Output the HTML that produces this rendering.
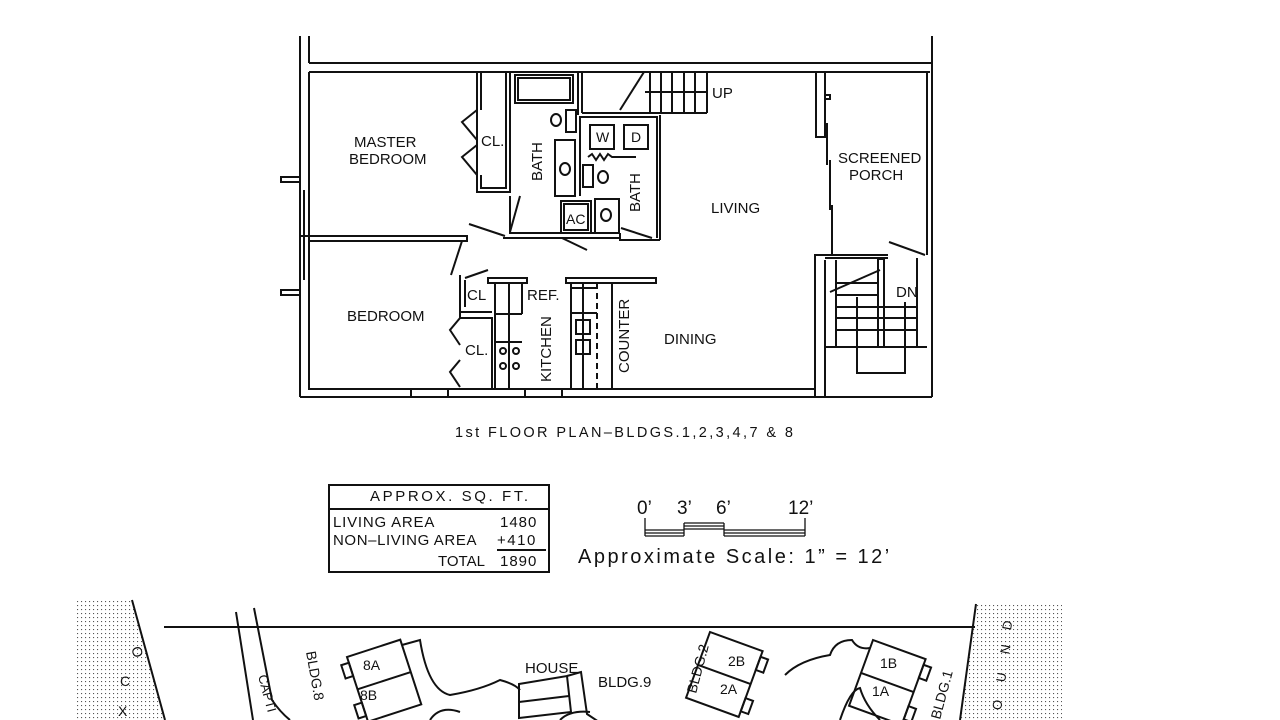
<!DOCTYPE html>
<html><head><meta charset="utf-8"><style>
html,body{margin:0;padding:0;background:#fff;width:1280px;height:720px;overflow:hidden}
svg{display:block}
text{font-family:"Liberation Sans",sans-serif;fill:#111}
</style></head><body>
<svg width="1280" height="720" viewBox="0 0 1280 720" xmlns="http://www.w3.org/2000/svg">
<defs>
<pattern id="dots" width="4" height="4" patternUnits="userSpaceOnUse"><rect x="1" y="1" width="1.1" height="1.1" fill="#555"/></pattern>
</defs>
<g stroke="#111" stroke-width="2" fill="none">
<line x1="300" y1="36" x2="300" y2="397"/>
<line x1="309" y1="36" x2="309" y2="63"/>
<line x1="309" y1="63" x2="932" y2="63"/>
<line x1="309" y1="72" x2="930" y2="72"/>
<line x1="932" y1="36" x2="932" y2="397"/>
<line x1="927" y1="72" x2="927" y2="255"/>
<line x1="309" y1="72" x2="309" y2="390"/>
<line x1="300" y1="397" x2="932" y2="397"/>
<line x1="309" y1="389" x2="815" y2="389"/>
<polyline points="300,177 281,177 281,182 300,182"/>
<polyline points="300,290 281,290 281,295 300,295"/>
<line x1="304" y1="190" x2="304" y2="280"/>
<polyline points="300,236 467,236 467,241 309,241"/>
<line x1="462" y1="241" x2="451" y2="275"/>
<!-- master closet -->
<polyline points="477,72 477,192 510,192 510,72"/>
<polyline points="481,72 481,110"/>
<polyline points="481,175 481,188 506,188 506,72"/>
<polyline points="477,110 462,122 477,140"/>
<polyline points="477,145 462,157 477,175"/>
<rect x="515" y="75" width="58" height="28"/>
<rect x="518" y="78" width="52" height="22"/>
<line x1="578" y1="72" x2="578" y2="115"/>
<line x1="582" y1="72" x2="582" y2="113"/>
<polyline points="510,196 510,233 620,233"/>
<polyline points="503,238 620,238"/>
<line x1="520" y1="196" x2="510" y2="232"/>
<line x1="469" y1="224" x2="505" y2="236"/>
<ellipse cx="556" cy="120" rx="5" ry="6"/>
<rect x="566" y="110" width="10" height="22"/>
<rect x="555" y="140" width="20" height="56"/>
<ellipse cx="565" cy="169" rx="5" ry="6"/>
<polyline points="580,196 580,117 657,117 657,238"/>
<line x1="582" y1="113" x2="707" y2="113"/>
<rect x="590" y="125" width="24" height="24"/>
<rect x="624" y="125" width="24" height="24"/>
<polyline points="588,157 592,154 596,160 600,154 604,160 608,154 612,157 636,157"/>
<rect x="583" y="165" width="10" height="22"/>
<ellipse cx="603" cy="177" rx="5" ry="6"/>
<rect x="561" y="201" width="30" height="32"/>
<rect x="564" y="204" width="24" height="26"/>
<rect x="595" y="199" width="24" height="34"/>
<ellipse cx="606" cy="215" rx="5" ry="6"/>
<line x1="621" y1="228" x2="652" y2="238"/>
<line x1="562" y1="238" x2="587" y2="250"/>
<polyline points="620,233 620,240 660,240"/>
<line x1="660" y1="115" x2="660" y2="240"/>
<line x1="707" y1="72" x2="707" y2="113"/>
<line x1="620" y1="110" x2="644" y2="72"/>
<line x1="650" y1="72" x2="650" y2="113"/>
<line x1="661" y1="72" x2="661" y2="113"/>
<line x1="672" y1="72" x2="672" y2="113"/>
<line x1="684" y1="72" x2="684" y2="113"/>
<line x1="695" y1="72" x2="695" y2="113"/>
<line x1="645" y1="92" x2="707" y2="92"/>
<polyline points="816,72 816,137 825,137 825,72"/>
<polyline points="825,95 830,95 830,99 825,99"/>
<line x1="827" y1="123" x2="827" y2="165"/>
<line x1="830" y1="160" x2="830" y2="210"/>
<line x1="832" y1="205" x2="832" y2="255"/>
<polyline points="815,397 815,255 888,255"/>
<line x1="825" y1="260" x2="825" y2="397"/>
<line x1="889" y1="242" x2="925" y2="255"/>
<polyline points="825,258 888,258"/>
<line x1="917" y1="258" x2="917" y2="347"/>
<line x1="836" y1="260" x2="836" y2="347"/>
<rect x="878" y="259" width="6" height="88"/>
<line x1="836" y1="283" x2="878" y2="283"/>
<line x1="836" y1="295" x2="878" y2="295"/>
<line x1="836" y1="307" x2="917" y2="307"/>
<line x1="836" y1="318" x2="917" y2="318"/>
<line x1="836" y1="330" x2="917" y2="330"/>
<line x1="825" y1="347" x2="927" y2="347"/>
<line x1="830" y1="292" x2="880" y2="270"/>
<polyline points="857,297 857,373 905,373 905,302"/>
<polyline points="460,275 460,312 492,312"/>
<polyline points="465,280 465,307"/>
<line x1="465" y1="278" x2="488" y2="270"/>
<polyline points="460,312 460,318 492,318 492,389"/>
<polyline points="460,318 450,330 460,345"/>
<polyline points="460,360 450,372 460,387"/>
<rect x="488" y="278" width="39" height="5"/>
<line x1="495" y1="283" x2="495" y2="389"/>
<line x1="509" y1="283" x2="509" y2="389"/>
<line x1="522" y1="283" x2="522" y2="314"/>
<line x1="495" y1="314" x2="522" y2="314"/>
<line x1="495" y1="342" x2="522" y2="342"/>
<circle cx="503" cy="351" r="3"/><circle cx="516" cy="351" r="3"/>
<circle cx="503" cy="366" r="3"/><circle cx="516" cy="366" r="3"/>
<rect x="566" y="278" width="90" height="5"/>
<line x1="571" y1="283" x2="571" y2="389"/>
<line x1="583" y1="283" x2="583" y2="389"/>
<line x1="612" y1="283" x2="612" y2="389"/>
<line x1="597" y1="283" x2="597" y2="389" stroke-dasharray="6,4"/>
<line x1="571" y1="288" x2="597" y2="288"/>
<line x1="571" y1="313" x2="597" y2="313"/>
<rect x="576" y="320" width="14" height="14"/>
<rect x="576" y="340" width="14" height="14"/>
<rect x="411" y="389" width="37" height="8"/>
<rect x="525" y="389" width="37" height="8"/>
<rect x="329" y="485" width="220" height="87"/>
<line x1="329" y1="509" x2="549" y2="509"/>
<line x1="497" y1="550" x2="546" y2="550"/>
<g stroke-width="1.3">
<line x1="645" y1="518" x2="645" y2="536"/>
<line x1="645" y1="530" x2="684" y2="530"/><line x1="645" y1="533" x2="684" y2="533"/><line x1="645" y1="536" x2="684" y2="536"/>
<line x1="684" y1="523" x2="684" y2="536"/>
<line x1="684" y1="523" x2="724" y2="523"/><line x1="684" y1="526" x2="724" y2="526"/><line x1="684" y1="529" x2="724" y2="529"/>
<line x1="724" y1="523" x2="724" y2="536"/>
<line x1="724" y1="530" x2="805" y2="530"/><line x1="724" y1="533" x2="805" y2="533"/><line x1="724" y1="536" x2="805" y2="536"/>
<line x1="805" y1="518" x2="805" y2="536"/>
</g>
</g>
<path d="M75,600 L132,600 L165,720 L75,720 Z" fill="url(#dots)"/>
<path d="M976,604 L1062,604 L1062,720 L960,720 Z" fill="url(#dots)"/>
<g stroke="#111" stroke-width="2" fill="none">
<path d="M132,600 L165,720"/>
<path d="M976,604 L960,720"/>
<line x1="164" y1="627" x2="975" y2="627"/>
<path d="M236,612 L253,720 M254,608 L272,700 Q280,712 290,720"/>
<g transform="translate(347,657) rotate(-18)"><rect x="0" y="0" width="56" height="68"/><line x1="0" y1="34" x2="56" y2="34"/><rect x="-8" y="6" width="8" height="14"/><rect x="-8" y="48" width="8" height="14"/></g>
<path d="M402,645 L420,640 Q428,690 450,695 Q480,690 500,680 Q515,684 520,690"/>
<g transform="translate(519,684)"><polygon points="0,0 48,-8 52,28 0,34"/><line x1="0" y1="18" x2="50" y2="12"/><polyline points="48,-8 62,-12 68,30 80,38 82,60"/></g>
<g transform="translate(710,632) rotate(20)"><rect x="0" y="0" width="56" height="70"/><line x1="0" y1="35" x2="56" y2="35"/><rect x="56" y="6" width="8" height="14"/><rect x="56" y="50" width="8" height="14"/></g>
<path d="M785,675 Q800,660 830,655 Q835,640 852,640 Q858,650 870,648"/>
<g transform="translate(873,640) rotate(20)"><rect x="0" y="0" width="56" height="70"/><line x1="0" y1="35" x2="56" y2="35"/><rect x="56" y="6" width="8" height="14"/><rect x="56" y="50" width="8" height="14"/></g>
<path d="M840,720 Q850,690 860,688 Q865,705 880,720"/>
<path d="M430,720 Q440,705 460,712 M560,720 Q570,710 590,712"/>
</g>
<g font-size="15">
<text x="354" y="147">MASTER</text>
<text x="349" y="164">BEDROOM</text>
<text x="481" y="146">CL.</text>
<text transform="translate(542,181) rotate(-90)">BATH</text>
<text x="596" y="142" font-size="14">W</text>
<text x="631" y="142" font-size="14">D</text>
<text transform="translate(640,212) rotate(-90)">BATH</text>
<text x="566" y="224" font-size="14">AC</text>
<text x="712" y="98">UP</text>
<text x="711" y="213">LIVING</text>
<text x="838" y="163">SCREENED</text>
<text x="849" y="180">PORCH</text>
<text x="896" y="297">DN</text>
<text x="347" y="321">BEDROOM</text>
<text x="467" y="300">CL</text>
<text x="527" y="300">REF.</text>
<text x="465" y="355">CL.</text>
<text transform="translate(551,382) rotate(-90)">KITCHEN</text>
<text transform="translate(629,373) rotate(-90)">COUNTER</text>
<text x="664" y="344">DINING</text>
<text x="455" y="437" font-size="14.5" letter-spacing="2.4">1st FLOOR PLAN–BLDGS.1,2,3,4,7 &amp; 8</text>
<text x="370" y="501" letter-spacing="2.6">APPROX. SQ. FT.</text>
<text x="333" y="527" letter-spacing="0.8">LIVING AREA</text>
<text x="500" y="527" letter-spacing="1">1480</text>
<text x="333" y="545" letter-spacing="0.6">NON–LIVING AREA</text>
<text x="497" y="545" letter-spacing="1.5">+410</text>
<text x="438" y="566">TOTAL</text>
<text x="500" y="566" letter-spacing="1">1890</text>
<text x="637" y="514" font-size="19">0’</text>
<text x="677" y="514" font-size="19">3’</text>
<text x="716" y="514" font-size="19">6’</text>
<text x="788" y="514" font-size="19">12’</text>
<text x="578" y="563" font-size="20" letter-spacing="2.5">Approximate Scale: 1” = 12’</text>
<text x="525" y="673">HOUSE</text>
<text x="598" y="687">BLDG.9</text>
<text x="363" y="670" font-size="14">8A</text>
<text x="360" y="700" font-size="14">8B</text>
<text x="728" y="666" font-size="14">2B</text>
<text x="720" y="694" font-size="14">2A</text>
<text x="880" y="668" font-size="14">1B</text>
<text x="872" y="696" font-size="14">1A</text>
<text transform="translate(306,652) rotate(80)" font-size="14">BLDG.8</text>
<text transform="translate(696,694) rotate(-75)" font-size="14">BLDG.2</text>
<text transform="translate(940,720) rotate(-75)" font-size="14">BLDG.1</text>
<text transform="translate(258,676) rotate(75)" font-size="13">CAPTI</text>
<text x="122" y="650" font-size="14" transform="rotate(75,128,655)">O</text>
<text x="120" y="686" font-size="14">C</text>
<text x="118" y="716" font-size="14">X</text>
<text x="1002" y="628" font-size="13" transform="rotate(-80,1008,624)">D</text>
<text x="1000" y="652" font-size="13" transform="rotate(-80,1006,648)">N</text>
<text x="996" y="680" font-size="13" transform="rotate(-80,1002,676)">U</text>
<text x="992" y="708" font-size="13" transform="rotate(-80,998,704)">O</text>
</g>
</svg>
</body></html>
